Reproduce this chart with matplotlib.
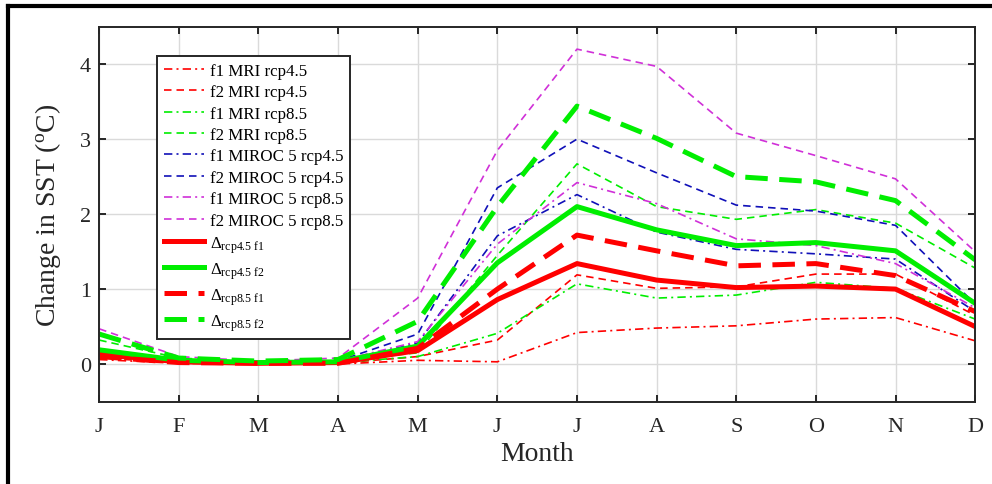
import matplotlib
matplotlib.use('Agg')
import matplotlib.pyplot as plt
from matplotlib.lines import Line2D

plt.rcParams['font.family'] = ['Liberation Serif', 'DejaVu Serif']
plt.rcParams['mathtext.fontset'] = 'custom'
plt.rcParams['mathtext.rm'] = 'Liberation Serif'
plt.rcParams['mathtext.it'] = 'Liberation Serif:italic'

months = ['J', 'F', 'M', 'A', 'M', 'J', 'J', 'A', 'S', 'O', 'N', 'D']

# individual model runs
f1_mri_45 = [0.06, 0.01, 0.00, 0.00, 0.05, 0.03, 0.42, 0.48, 0.51, 0.60, 0.62, 0.31]
f2_mri_45 = [0.08, 0.02, 0.00, 0.01, 0.10, 0.32, 1.19, 1.01, 1.03, 1.20, 1.20, 0.65]
f1_mri_85 = [0.10, 0.03, 0.01, 0.02, 0.10, 0.41, 1.07, 0.88, 0.92, 1.09, 1.01, 0.60]
f2_mri_85 = [0.32, 0.08, 0.03, 0.04, 0.15, 1.45, 2.67, 2.10, 1.93, 2.06, 1.88, 1.28]
f1_miroc_45 = [0.10, 0.04, 0.02, 0.03, 0.28, 1.71, 2.26, 1.76, 1.53, 1.47, 1.40, 0.70]
f2_miroc_45 = [0.15, 0.05, 0.02, 0.04, 0.40, 2.35, 3.00, 2.55, 2.12, 2.04, 1.85, 0.80]
f1_miroc_85 = [0.12, 0.05, 0.02, 0.04, 0.30, 1.60, 2.42, 2.14, 1.67, 1.58, 1.34, 0.75]
f2_miroc_85 = [0.47, 0.10, 0.04, 0.08, 0.88, 2.85, 4.20, 3.97, 3.08, 2.78, 2.47, 1.50]

# ensemble means
d45_f1 = [0.13, 0.03, 0.01, 0.02, 0.18, 0.86, 1.34, 1.12, 1.02, 1.04, 1.00, 0.50]
d45_f2 = [0.19, 0.05, 0.02, 0.03, 0.24, 1.35, 2.10, 1.79, 1.58, 1.62, 1.51, 0.81]
d85_f1 = [0.10, 0.02, 0.01, 0.01, 0.21, 1.00, 1.72, 1.51, 1.31, 1.34, 1.18, 0.70]
d85_f2 = [0.40, 0.08, 0.04, 0.06, 0.57, 2.10, 3.44, 3.01, 2.50, 2.43, 2.18, 1.39]

red = '#ff0000'
green = '#00ee00'
blue = '#1010b8'
magenta = '#d030d8'

x = list(range(1, 13))

fig = plt.figure(figsize=(9.92, 4.85), dpi=100)
ax = fig.add_axes([0.1, 0.17, 0.883, 0.773])

thin = 1.2
thick = 3.6
dash = (4.5, 3)
dashdot = (5, 2.5, 1.2, 2.5)
thickdash = (4.5, 2.3)

ax.plot(x, f1_mri_45, color=red, lw=thin, dashes=dashdot, label='f1 MRI rcp4.5')
ax.plot(x, f2_mri_45, color=red, lw=thin, dashes=dash, label='f2 MRI rcp4.5')
ax.plot(x, f1_mri_85, color=green, lw=thin, dashes=dashdot, label='f1 MRI rcp8.5')
ax.plot(x, f2_mri_85, color=green, lw=thin, dashes=dash, label='f2 MRI rcp8.5')
ax.plot(x, f1_miroc_45, color=blue, lw=thin, dashes=dashdot, label='f1 MIROC 5 rcp4.5')
ax.plot(x, f2_miroc_45, color=blue, lw=thin, dashes=dash, label='f2 MIROC 5 rcp4.5')
ax.plot(x, f1_miroc_85, color=magenta, lw=thin, dashes=dashdot, label='f1 MIROC 5 rcp8.5')
ax.plot(x, f2_miroc_85, color=magenta, lw=thin, dashes=dash, label='f2 MIROC 5 rcp8.5')
ax.plot(x, d45_f1, '-', color=red, lw=thick, label=r'$\Delta_{\rm rcp4.5\ f1}$')
ax.plot(x, d45_f2, '-', color=green, lw=thick, label=r'$\Delta_{\rm rcp4.5\ f2}$')
ax.plot(x, d85_f1, color=red, lw=thick, dashes=thickdash, label=r'$\Delta_{\rm rcp8.5\ f1}$')
ax.plot(x, d85_f2, color=green, lw=thick, dashes=thickdash, label=r'$\Delta_{\rm rcp8.5\ f2}$')

ax.set_xlim(1, 12)
ax.set_ylim(-0.5, 4.5)
ax.set_xticks(x)
ax.set_xticklabels(months)
ax.set_yticks([0, 1, 2, 3, 4])
ax.grid(True, color='#dadada', lw=1)
ax.set_axisbelow(True)
ax.tick_params(direction='in', top=True, right=True, length=5, width=1.4,
               labelsize=16, colors='#262626', labelcolor='#262626')
ax.tick_params(axis='x', pad=11)
ax.tick_params(axis='y', pad=6)
for s in ax.spines.values():
    s.set_linewidth(1.4)
    s.set_color('#262626')

ax.set_xlabel('Month', fontsize=20, color='#262626', labelpad=4)
ax.set_ylabel(r'Change in SST ($^{\rm o}$C)', fontsize=20, color='#262626', labelpad=12)

leg = ax.legend(loc='upper left', bbox_to_anchor=(0.066, 0.922), borderaxespad=0,
                fontsize=12.2, handlelength=2.4, handletextpad=0.3, labelspacing=0.32,
                fancybox=False, framealpha=1, edgecolor='#262626')
leg.get_frame().set_linewidth(1.4)

# outer frame of the figure (left and top edges visible)
fig.add_artist(Line2D([0.008, 0.008], [0, 0.986], color='black', lw=3, transform=fig.transFigure))
fig.add_artist(Line2D([0.008, 1.0], [0.986, 0.986], color='black', lw=3, transform=fig.transFigure))

fig.savefig('out.png', dpi=100)
